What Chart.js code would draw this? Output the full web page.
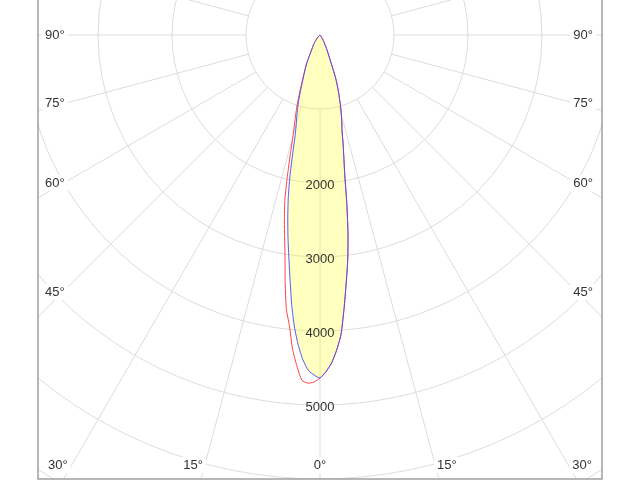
<!DOCTYPE html>
<html>
<head>
<meta charset="utf-8">
<script src="https://cdn.jsdelivr.net/npm/chart.js@4.4.1/dist/chart.umd.min.js"></script>
<style>
  html, body { margin: 0; padding: 0; background: #fff; }
  canvas { display: block; }
</style>
</head>
<body>
<canvas id="polarChart" width="640" height="480"></canvas>
<script>
// Gamma angles (degrees from nadir) shared by every half plane
const angles = [0, 1, 2, 3, 4, 5, 6, 7, 8, 9, 10, 11, 12, 13, 14, 15, 16, 18, 20, 25, 30, 35, 40, 45, 50, 60, 70, 80, 90];

// Luminous intensity (cd)
const c0   = [4628, 4551, 4438, 4268, 4060, 3720, 3380, 3070, 2720, 2320, 1930, 1690, 1500, 1320, 1216, 1114, 1012, 809, 615, 224, 103, 40, 14, 0, 0, 0, 0, 0, 0];
const c180 = [4635, 4595, 4534, 4397, 4204, 3962, 3662, 3326, 3027, 2768, 2508, 2249, 1960, 1634, 1376, 1242, 1138, 930, 723, 432, 216, 142, 78, 40, 14, 0, 0, 0, 0];
const c90  = [4628, 4551, 4438, 4268, 4060, 3720, 3380, 3070, 2720, 2320, 1930, 1690, 1500, 1320, 1216, 1114, 1012, 809, 615, 224, 103, 40, 14, 0, 0, 0, 0, 0, 0];
const c270 = [4635, 4690, 4707, 4672, 4482, 4259, 3951, 3730, 3382, 3024, 2755, 2522, 2286, 1960, 1649, 1405, 1247, 1009, 770, 432, 216, 142, 78, 40, 14, 0, 0, 0, 0];

// Grid
const rings = [1000, 2000, 3000, 4000, 5000, 6000, 7000];
const ringLabels = ['2000', '3000', '4000', '5000'];
const angleTicks = [0, 15, 30, 45, 60, 75, 90];

const FONT = '13px "Liberation Sans", Arial, sans-serif';

// left half goes 90 -> 0, right half 0 -> 90
function planePoints(left, right) {
  const pts = [];
  for (let i = angles.length - 1; i >= 0; i--) {
    const a = angles[i] * Math.PI / 180;
    pts.push({ x: -left[i] * Math.sin(a), y: -left[i] * Math.cos(a) });
  }
  for (let i = 1; i < angles.length; i++) {
    const a = angles[i] * Math.PI / 180;
    pts.push({ x: right[i] * Math.sin(a), y: -right[i] * Math.cos(a) });
  }
  return pts;
}

const polarGrid = {
  id: 'polarGrid',
  beforeDatasetsDraw(chart) {
    const { ctx, chartArea: area, scales: { x, y } } = chart;
    const cx = x.getPixelForValue(0), cy = y.getPixelForValue(0);
    const rad = v => x.getPixelForValue(v) - cx;

    ctx.save();
    ctx.beginPath();
    ctx.rect(area.left, area.top, area.right - area.left, area.bottom - area.top);
    ctx.clip();
    ctx.strokeStyle = '#dcdcdc';
    ctx.lineWidth = 1;

    rings.forEach(v => {
      ctx.beginPath();
      ctx.arc(cx, cy, rad(v), 0, Math.PI * 2);
      ctx.stroke();
    });

    const r0 = rad(rings[0]), r1 = rad(12000);
    for (let d = 0; d < 360; d += 15) {
      const a = d * Math.PI / 180;
      ctx.beginPath();
      ctx.moveTo(cx + r0 * Math.sin(a), cy + r0 * Math.cos(a));
      ctx.lineTo(cx + r1 * Math.sin(a), cy + r1 * Math.cos(a));
      ctx.stroke();
    }
    ctx.restore();
  },
  afterDatasetsDraw(chart) {
    const { ctx, chartArea: area, scales: { x, y } } = chart;
    const cx = x.getPixelForValue(0), cy = y.getPixelForValue(0);

    ctx.save();
    ctx.font = FONT;
    ctx.textBaseline = 'middle';

    // intensity labels down the 0 ray
    ctx.textAlign = 'center';
    ctx.fillStyle = '#333';
    ringLabels.forEach(t => {
      ctx.fillText(t, cx, y.getPixelForValue(-Number(t)) + 2);
    });

    // angle labels with white boxes
    const label = (txt, tx, ty, align) => {
      const w = ctx.measureText(txt).width;
      let left = tx;
      if (align === 'center') left = tx - w / 2;
      if (align === 'right') left = tx - w;
      ctx.fillStyle = '#fff';
      ctx.fillRect(left - 3, ty - 8, w + 6, 16);
      ctx.fillStyle = '#333';
      ctx.textAlign = align;
      ctx.fillText(txt, tx, ty);
    };

    const sideDx = cx - (area.left + 25);
    const bottomY = area.bottom - 14;
    angleTicks.forEach(t => {
      const txt = t + '°';
      const a = t * Math.PI / 180;
      if (t === 0) {
        label(txt, cx, bottomY, 'center');
        return;
      }
      const sy = cy + sideDx * Math.cos(a) / Math.sin(a);
      if (sy < bottomY - 6) {
        label(txt, area.left + 7, sy, 'left');
        label(txt, area.right - 9, sy, 'right');
      } else {
        const dx = (area.bottom - cy - 7) * Math.tan(a);
        label(txt, cx - dx, bottomY, 'right');
        label(txt, cx + dx, bottomY, 'left');
      }
    });

    // frame
    ctx.strokeStyle = '#a0a0a0';
    ctx.lineWidth = 1.5;
    ctx.beginPath();
    ctx.moveTo(area.left, area.top - 2);
    ctx.lineTo(area.left, area.bottom);
    ctx.lineTo(area.right, area.bottom);
    ctx.lineTo(area.right, area.top - 2);
    ctx.stroke();
    ctx.restore();
  }
};

new Chart(document.getElementById('polarChart'), {
  type: 'scatter',
  data: {
    datasets: [
      {
        label: 'C0-C180',
        data: planePoints(c180, c0),
        showLine: true,
        borderColor: 'rgba(70,70,255,0.9)',
        borderWidth: 1,
        backgroundColor: 'rgba(255,255,0,0.25)',
        fill: 'shape',
        pointRadius: 0,
        tension: 0.2
      },
      {
        label: 'C90-C270',
        data: planePoints(c270, c90),
        showLine: true,
        borderColor: '#ff4040',
        borderWidth: 1,
        fill: false,
        pointRadius: 0,
        tension: 0.2
      }
    ]
  },
  options: {
    responsive: false,
    animation: false,
    devicePixelRatio: 1,
    layout: { padding: { left: 38, right: 38, top: 0, bottom: 1 } },
    scales: {
      x: { type: 'linear', display: false, min: -3811, max: 3811 },
      y: { type: 'linear', display: false, min: -6000, max: 473 }
    },
    plugins: {
      legend: { display: false },
      tooltip: { enabled: false }
    }
  },
  plugins: [polarGrid]
});
</script>
</body>
</html>
